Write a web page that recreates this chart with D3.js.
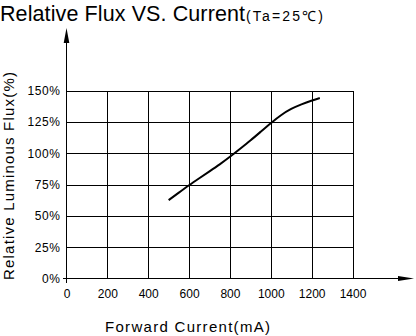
<!DOCTYPE html>
<html><head><meta charset="utf-8">
<script src="https://cdn.jsdelivr.net/npm/d3@7"></script>
<style>
html,body{margin:0;padding:0;background:#fff;}
svg{display:block;font-family:"Liberation Sans",Arial,sans-serif;}
</style></head>
<body>
<svg id="chart" width="416" height="336"></svg>
<script>
const xTicks = [0, 200, 400, 600, 800, 1000, 1200, 1400];
const yTicks = [0, 25, 50, 75, 100, 125, 150];
const currentMA = [500, 550, 600, 650, 700, 750, 800, 850, 900, 950, 1000, 1050, 1100, 1150, 1200, 1240];
const fluxPct   = [62.5, 68.5, 74.5, 80, 85.5, 91, 97, 103.5, 110, 117, 124, 130.5, 135.5, 139, 142, 144];
const titleMain = "Relative Flux VS. Current";
const titleSub = "(Ta=25℃)";
const xTitle = "Forward Current(mA)";
const yTitle = "Relative Luminous Flux(%)";

const svg = d3.select("#chart");
const x = d3.scaleLinear().domain([0, 1400]).range([66.5, 352.5]);
const y = d3.scaleLinear().domain([0, 150]).range([278.5, 90.5]);

// title
svg.append("text").attr("x", 0).attr("y", 20.5)
  .attr("font-size", 21.5).attr("textLength", 245).attr("lengthAdjust", "spacing")
  .text(titleMain);
svg.append("text").attr("x", 246).attr("y", 20.5)
  .attr("font-size", 14).attr("textLength", 77).attr("lengthAdjust", "spacing")
  .text(titleSub);

// grid via axes
const gx = svg.append("g").attr("transform", `translate(0,${y(0)})`)
  .call(d3.axisBottom(x).tickValues(xTicks).tickSize(-(y(0) - y(150))).tickPadding(11).tickFormat(d3.format("d")));
gx.select(".domain").remove();
gx.selectAll("line").attr("stroke", "#000").attr("shape-rendering", "crispEdges");
gx.selectAll(".tick").filter(d => d === 0).select("line").remove();
gx.selectAll("text").attr("font-size", 12).attr("font-family", "Liberation Sans, Arial, sans-serif").attr("fill", "#000");

const gy = svg.append("g").attr("transform", `translate(${x(0)},0)`)
  .call(d3.axisLeft(y).tickValues(yTicks).tickSize(-(x(1400) - x(0))).tickPadding(6).tickFormat(d => d + "%"));
gy.select(".domain").remove();
gy.selectAll("line").attr("stroke", "#000").attr("shape-rendering", "crispEdges");
gy.selectAll(".tick").filter(d => d === 0).select("line").remove();
gy.selectAll("text").attr("font-size", 12).attr("letter-spacing", 0.6).attr("font-family", "Liberation Sans, Arial, sans-serif").attr("fill", "#000");

// main axes with arrows
svg.append("line").attr("x1", x(0) - 3.5).attr("x2", 405).attr("y1", y(0)).attr("y2", y(0))
  .attr("stroke", "#000").attr("shape-rendering", "crispEdges");
svg.append("line").attr("x1", x(0)).attr("x2", x(0)).attr("y1", y(0) + 4).attr("y2", 40)
  .attr("stroke", "#000").attr("shape-rendering", "crispEdges");
svg.append("path").attr("d", `M${x(0)},28 L${x(0) - 2.8},43 L${x(0) + 2.8},43 Z`).attr("fill", "#000");
svg.append("path").attr("d", `M414,${y(0)} L398,${y(0) - 2.5} L398,${y(0) + 2.5} Z`).attr("fill", "#000");

// curve
const pts = currentMA.map((c, i) => [c, fluxPct[i]]);
svg.append("path").datum(pts)
  .attr("d", d3.line().x(d => x(d[0])).y(d => y(d[1])).curve(d3.curveBasis))
  .attr("fill", "none").attr("stroke", "#000").attr("stroke-width", 2);

// axis titles
svg.append("text").attr("x", 105).attr("y", 331.5)
  .attr("font-size", 15).attr("textLength", 165).attr("lengthAdjust", "spacing")
  .text(xTitle);
svg.append("text").attr("transform", "translate(14,280) rotate(-90)")
  .attr("font-size", 15).attr("textLength", 208).attr("lengthAdjust", "spacing")
  .text(yTitle);
</script>
</body></html>
